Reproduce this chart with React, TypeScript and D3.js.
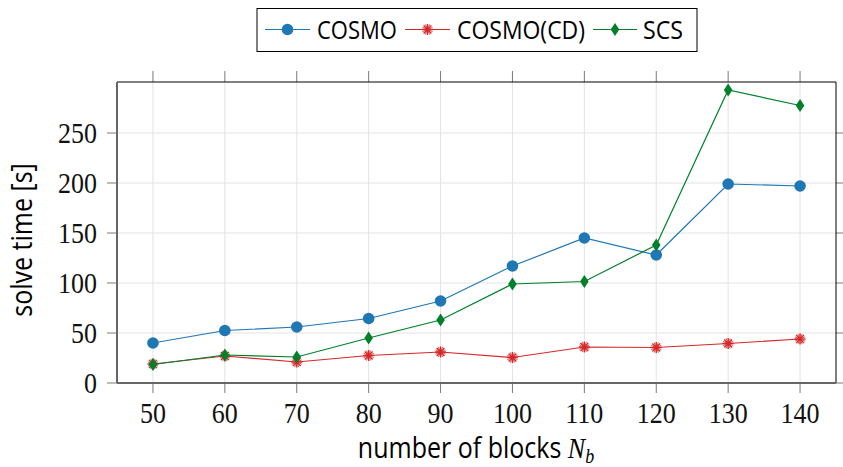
import React from 'react';
import * as d3 from 'd3';

// blocks on x axis
const blocks = [50, 60, 70, 80, 90, 100, 110, 120, 130, 140];
const cosmo = [40, 52.5, 56, 64.5, 82, 117, 145, 128, 199, 197];
const cosmoCD = [19, 27, 21, 27.5, 31, 25.5, 36, 35.5, 39.5, 44];
const scs = [18.5, 28, 26, 45, 63, 99, 101.5, 138, 293, 277.5];
const yTicks = [0, 50, 100, 150, 200, 250];

const series = [
  { name: 'COSMO', values: cosmo, color: '#1f77b4', mark: 'circle' },
  { name: 'COSMO(CD)', values: cosmoCD, color: '#d62728', mark: 'asterisk' },
  { name: 'SCS', values: scs, color: '#00802b', mark: 'diamond' }
];

const W = 843;
const H = 467;
const plot = { left: 117, right: 836, top: 82, bottom: 383 };
const sans = "'Open Sans', sans-serif";
const serif = "'Liberation Serif', serif";
const stretch = 1.15; // text in the reference is a bit taller than wide

const Marker = ({ type, x, y, color }) => {
  if (type === 'circle') {
    return <circle cx={x} cy={y} r={5.8} fill={color} />;
  }
  if (type === 'diamond') {
    return <path d={`M${x},${y - 6.5}L${x + 4.3},${y}L${x},${y + 6.5}L${x - 4.3},${y}Z`} fill={color} />;
  }
  // asterisk burst
  const r = 5.5;
  return (
    <g stroke={color}>
      {[90, 45, 0, -45, 67.5, 22.5, -22.5, -67.5].map(a => {
        const dx = r * Math.cos((a * Math.PI) / 180);
        const dy = r * Math.sin((a * Math.PI) / 180);
        return <line key={a} x1={x - dx} y1={y - dy} x2={x + dx} y2={y + dy} strokeWidth={a % 45 === 0 ? 1.4 : 0.8} />;
      })}
    </g>
  );
};

const Label = ({ x, y, children, ...rest }) => (
  <text transform={`translate(${x},${y}) scale(1,${stretch})`} {...rest}>{children}</text>
);

const App = () => {
  const x = d3.scaleLinear().domain([45, 145]).range([plot.left, plot.right]);
  const y = d3.scaleLinear().domain([0, 301]).range([plot.bottom, plot.top]);

  const line = d3.line<number>()
    .x((d, i) => x(blocks[i]))
    .y(d => y(d));

  // legend layout
  const legend = [
    { lx1: 265, lx2: 310, tx: 317, tw: 80 },
    { lx1: 405, lx2: 450, tx: 457, tw: 128 },
    { lx1: 593, lx2: 637, tx: 643, tw: 40 }
  ];
  const legendY = 29.5;

  return (
    <svg width={W} height={H} style={{ position: 'absolute', left: 0, top: 0, background: '#fff' }}>
      {/* grid */}
      <g stroke="#e3e3e3" strokeWidth={1}>
        {blocks.map(b => (
          <line key={'gx' + b} x1={x(b)} x2={x(b)} y1={plot.top} y2={plot.bottom} />
        ))}
        {yTicks.map(t => (
          <line key={'gy' + t} x1={plot.left} x2={plot.right} y1={y(t)} y2={y(t)} />
        ))}
      </g>

      {/* ticks outside on all sides */}
      <g stroke="#7a7a7a" strokeWidth={1}>
        {blocks.map(b => (
          <g key={'tx' + b}>
            <line x1={x(b)} x2={x(b)} y1={plot.bottom} y2={plot.bottom + 10} />
            <line x1={x(b)} x2={x(b)} y1={plot.top} y2={plot.top - 11} />
          </g>
        ))}
        {yTicks.map(t => (
          <g key={'ty' + t}>
            <line x1={plot.left - 10} x2={plot.left} y1={y(t)} y2={y(t)} />
            <line x1={plot.right} x2={plot.right + 8} y1={y(t)} y2={y(t)} />
          </g>
        ))}
      </g>

      {/* frame */}
      <line x1={plot.left} x2={plot.right} y1={plot.top} y2={plot.top} stroke="#000" strokeWidth={1} />
      <line x1={plot.right} x2={plot.right} y1={plot.top} y2={plot.bottom} stroke="#000" strokeWidth={1} />
      <line x1={plot.left} x2={plot.right} y1={plot.bottom} y2={plot.bottom} stroke="#666" strokeWidth={2} />
      <line x1={plot.left} x2={plot.left} y1={plot.top} y2={plot.bottom} stroke="#666" strokeWidth={2} />

      {/* series */}
      {series.map(s => (
        <g key={s.name}>
          <path d={line(s.values) || ''} fill="none" stroke={s.color} strokeWidth={1.2} />
          {s.values.map((v, i) => (
            <Marker key={i} type={s.mark} x={x(blocks[i])} y={y(v)} color={s.color} />
          ))}
        </g>
      ))}

      {/* tick labels */}
      <g fontFamily={serif} fontSize={26} fill="#111">
        {blocks.map(b => (
          <Label key={'lx' + b} x={x(b)} y={plot.bottom + 40} textAnchor="middle">{b}</Label>
        ))}
        {yTicks.map(t => (
          <Label key={'ly' + t} x={plot.left - 20} y={y(t) + 10} textAnchor="end">{t}</Label>
        ))}
      </g>

      {/* axis labels */}
      <text transform={`translate(32,240) rotate(-90) scale(1,${stretch})`} textAnchor="middle" fontFamily={sans} fontSize={25} fill="#000">
        solve time [s]
      </text>
      <Label x={476} y={458} textAnchor="middle" fontFamily={sans} fontSize={25} fill="#000">
        number of blocks{' '}
        <tspan fontFamily={serif} fontStyle="italic" fontSize={26}>N</tspan>
        <tspan fontFamily={serif} fontStyle="italic" fontSize={18} dy={4}>b</tspan>
      </Label>

      {/* legend */}
      <rect x={257} y={8.5} width={440} height={43} fill="#fff" stroke="#000" strokeWidth={1} />
      {series.map((s, i) => {
        const l = legend[i];
        return (
          <g key={'lg' + s.name}>
            <line x1={l.lx1} x2={l.lx2} y1={legendY} y2={legendY} stroke={s.color} strokeWidth={1.2} />
            <Marker type={s.mark} x={(l.lx1 + l.lx2) / 2} y={legendY} color={s.color} />
            <text x={l.tx} y={legendY + 9} fontFamily={sans} fontSize={25} textLength={l.tw}
              lengthAdjust="spacingAndGlyphs" fill="#000">{s.name}</text>
          </g>
        );
      })}
    </svg>
  );
};

export default App;
